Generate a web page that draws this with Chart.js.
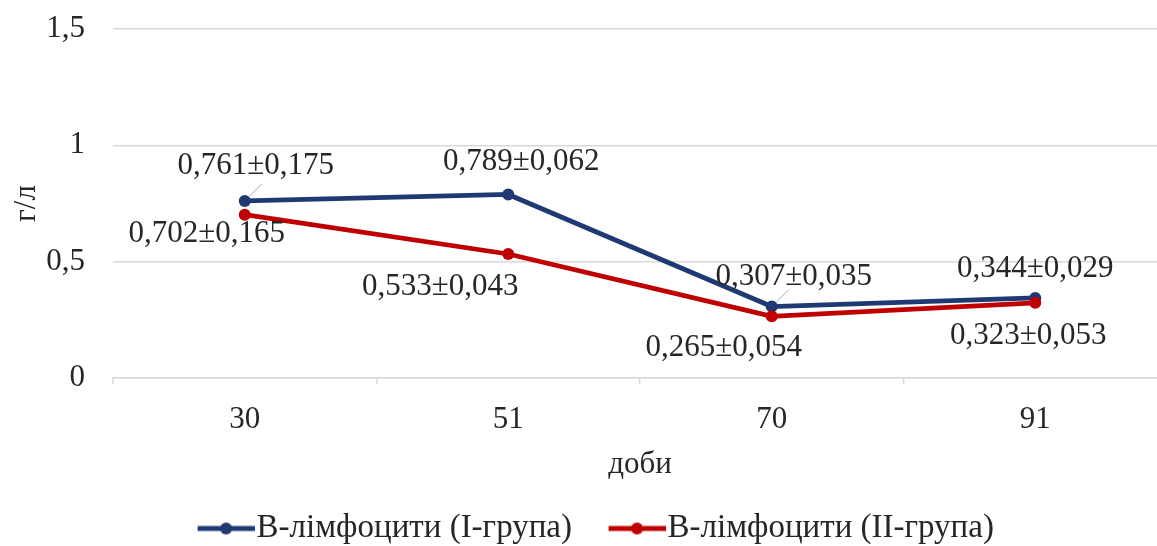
<!DOCTYPE html>
<html><head><meta charset="utf-8">
<script src="https://cdn.jsdelivr.net/npm/chart.js@4/dist/chart.umd.min.js"></script>
<style>
html,body{margin:0;padding:0;background:#fff;overflow:hidden;}
canvas{display:block;}
</style></head>
<body><canvas id="c" width="1173" height="546" style="width:1173px;height:546px"></canvas>
<script>
// ---- data ----
const categories = ['30', '51', '70', '91'];
const groupI = [0.761, 0.789, 0.307, 0.344];
const groupII = [0.702, 0.533, 0.265, 0.323];
const errI = [0.175, 0.062, 0.035, 0.029];
const errII = [0.165, 0.043, 0.054, 0.053];
const yTickValues = [0, 0.5, 1, 1.5];
const seriesNames = ['В-лімфоцити (І-група)', 'В-лімфоцити (ІІ-група)'];
const xTitle = 'доби';
const yTitle = 'г/л';

// ---- styles ----
const FONT = '"Liberation Serif", "Times New Roman", serif';
const FS = 31;
const LFS = 33;
const TXT = '#262626';
const BLUE = '#1F3A72';
const RED = '#C00000';
const GRID = '#d9d9d9';
const labelOffsetsI = [[11, -35], [13, -33], [22, -30], [0, -29]];
const labelOffsetsII = [[-38, 19], [-68, 33], [-48, 32], [-7, 33]];
const leaderI = [true, false, true, false];

function fmt(v) { return v.toFixed(3).replace('.', ','); }

function legendMarker(color) {
  const c = document.createElement('canvas');
  c.width = 90; c.height = 16;
  const g = c.getContext('2d');
  g.strokeStyle = color; g.lineWidth = 5;
  g.beginPath(); g.moveTo(33, 8); g.lineTo(90, 8); g.stroke();
  g.fillStyle = color;
  g.beginPath(); g.arc(61.5, 8, 6, 0, Math.PI * 2); g.fill();
  return c;
}

const labelPlugin = {
  id: 'valLabels',
  afterDatasetsDraw(chart) {
    const ctx = chart.ctx;
    ctx.save();
    ctx.font = FS + 'px ' + FONT;
    ctx.fillStyle = TXT;
    ctx.textAlign = 'center';
    ctx.textBaseline = 'middle';
    const sets = [[groupI, errI, labelOffsetsI, leaderI], [groupII, errII, labelOffsetsII, null]];
    sets.forEach((s, di) => {
      const meta = chart.getDatasetMeta(di);
      meta.data.forEach((pt, i) => {
        const off = s[2][i];
        if (s[3] && s[3][i]) {
          ctx.save();
          ctx.strokeStyle = '#a6a6a6'; ctx.lineWidth = 1;
          ctx.beginPath();
          ctx.moveTo(pt.x + 5, pt.y - 5);
          ctx.lineTo(pt.x + 17, pt.y - 17);
          ctx.stroke();
          ctx.restore();
        }
        ctx.fillText(fmt(s[0][i]) + '±' + fmt(s[1][i]), pt.x + off[0], pt.y + off[1]);
      });
    });
    ctx.restore();
  }
};

new Chart(document.getElementById('c'), {
  type: 'line',
  data: {
    labels: categories,
    datasets: [
      { label: seriesNames[0], data: groupI, borderColor: BLUE, backgroundColor: BLUE,
        borderWidth: 4.8, pointRadius: 6, pointBackgroundColor: BLUE, pointBorderWidth: 0,
        pointStyle: 'circle', order: 1, tension: 0, legendMarker: legendMarker(BLUE) },
      { label: seriesNames[1], data: groupII, borderColor: RED, backgroundColor: RED,
        borderWidth: 4.8, pointRadius: 6, pointBackgroundColor: RED, pointBorderWidth: 0,
        pointStyle: 'circle', order: 0, tension: 0, legendMarker: legendMarker(RED) }
    ]
  },
  options: {
    responsive: false,
    maintainAspectRatio: false,
    devicePixelRatio: 1,
    animation: false,
    events: [],
    layout: { padding: { top: 29, left: 0, right: 0, bottom: -9 } },
    plugins: {
      tooltip: { enabled: false },
      legend: {
        position: 'bottom',
        labels: {
          usePointStyle: true,
          pointStyleWidth: 61,
          padding: 18,
          color: TXT,
          font: { family: FONT, size: LFS },
          generateLabels(chart) {
            return chart.data.datasets.map((ds, i) => ({
              text: ds.label, fillStyle: ds.borderColor, strokeStyle: ds.borderColor,
              pointStyle: ds.legendMarker, lineWidth: 0, hidden: false, datasetIndex: i,
              fontColor: TXT
            }));
          }
        }
      }
    },
    scales: {
      x: {
        offset: true,
        grid: { display: true, drawOnChartArea: false, drawTicks: true, tickLength: 6,
                offset: true, color: GRID, lineWidth: 1.5 },
        border: { display: true, color: GRID, width: 1.5 },
        ticks: { color: TXT, font: { family: FONT, size: FS }, padding: 17 },
        title: { display: true, text: xTitle, color: TXT, font: { family: FONT, size: FS },
                 padding: { top: 0, bottom: 11 } },
        afterFit(scale) { scale.height = 116; }
      },
      y: {
        min: 0, max: 1.5,
        afterBuildTicks(scale) { scale.ticks = yTickValues.map(v => ({ value: v })); },
        grid: { color: GRID, lineWidth: 1.5, drawTicks: true, tickLength: 28,
                tickColor: 'rgba(0,0,0,0)' },
        border: { display: false },
        ticks: { color: TXT, font: { family: FONT, size: FS }, padding: 0,
                 callback: v => String(v).replace('.', ',') },
        title: { display: true, text: yTitle, color: TXT, font: { family: FONT, size: FS },
                 padding: { top: 8, bottom: 0 } },
        afterFit(scale) { scale.width = 113; }
      }
    }
  },
  plugins: [labelPlugin]
});
</script>
</body></html>
